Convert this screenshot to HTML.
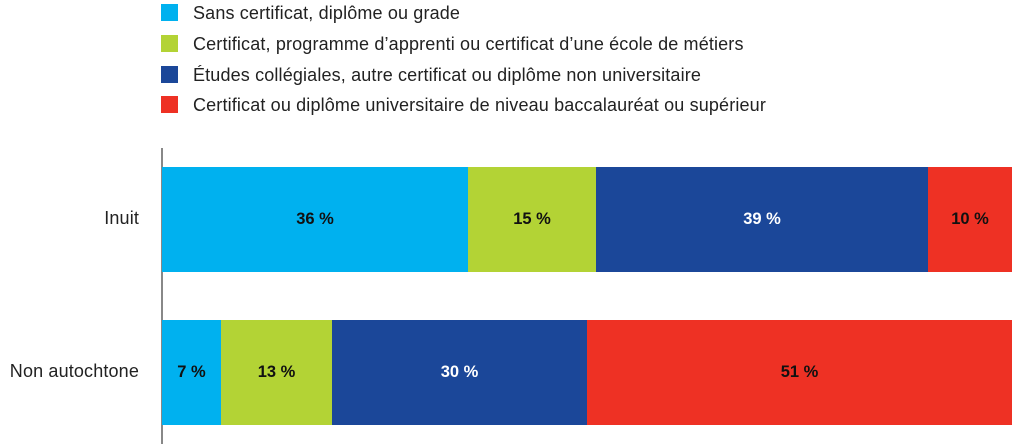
<!DOCTYPE html><html><head><style>
body{margin:0;width:1024px;height:446px;background:#fff;position:relative;overflow:hidden;font-family:"Liberation Sans",sans-serif}
.sq{position:absolute;left:161px;width:17px;height:17px}
.lt{position:absolute;left:193px;font-size:18px;letter-spacing:0.15px;color:#222;line-height:20px}
.seg{position:absolute;display:flex;align-items:center;justify-content:center;font-weight:bold;font-size:16.5px;color:#111}
.w{color:#fff}
.cat{position:absolute;font-size:18px;letter-spacing:0.15px;color:#222;text-align:right;right:885px}
</style></head><body>
<div class="sq" style="top:4px;background:#00b1ef"></div><div class="lt" style="top:3px">Sans certificat, diplôme ou grade</div>
<div class="sq" style="top:35px;background:#b3d335"></div><div class="lt" style="top:34px">Certificat, programme d’apprenti ou certificat d’une école de métiers</div>
<div class="sq" style="top:66px;background:#1b4799"></div><div class="lt" style="top:65px">Études collégiales, autre certificat ou diplôme non universitaire</div>
<div class="sq" style="top:96px;background:#ee3124"></div><div class="lt" style="top:95px">Certificat ou diplôme universitaire de niveau baccalauréat ou supérieur</div>
<div style="position:absolute;left:161px;top:148px;width:1.5px;height:296px;background:#888"></div>
<div class="cat" style="top:208px">Inuit</div>
<div class="cat" style="top:361px">Non autochtone</div>
<div class="seg" style="left:162px;width:306px;top:167px;height:105px;background:#00b1ef">36 %</div>
<div class="seg" style="left:468px;width:128px;top:167px;height:105px;background:#b3d335">15 %</div>
<div class="seg w" style="left:596px;width:332px;top:167px;height:105px;background:#1b4799">39 %</div>
<div class="seg" style="left:928px;width:84px;top:167px;height:105px;background:#ee3124">10 %</div>
<div class="seg" style="left:162px;width:59px;top:320px;height:105px;background:#00b1ef">7 %</div>
<div class="seg" style="left:221px;width:111px;top:320px;height:105px;background:#b3d335">13 %</div>
<div class="seg w" style="left:332px;width:255px;top:320px;height:105px;background:#1b4799">30 %</div>
<div class="seg" style="left:587px;width:425px;top:320px;height:105px;background:#ee3124">51 %</div>
</body></html>
